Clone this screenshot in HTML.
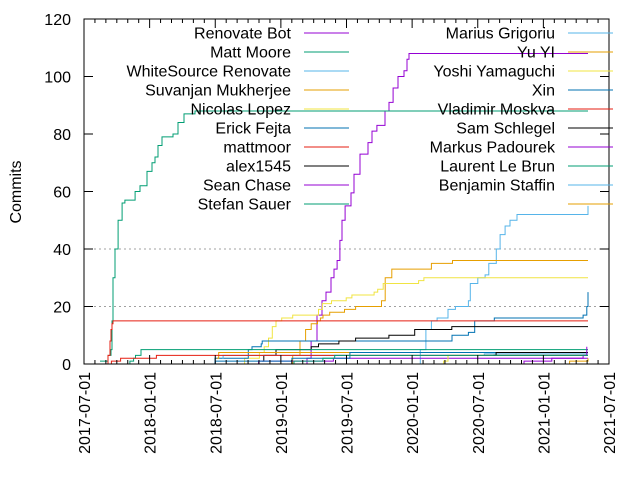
<!DOCTYPE html>
<html><head><meta charset="utf-8"><style>
html,body{margin:0;padding:0;background:#fff}
svg{display:block;font-family:"Liberation Sans",sans-serif}
</style></head><body>
<svg id="chart" width="640" height="480" viewBox="0 0 640 480" xmlns="http://www.w3.org/2000/svg">
<g id="grid"></g>
<g id="series"></g>
<g id="axes"></g>
<g id="legend"></g>
<text x="0" y="0" transform="translate(21,192) rotate(-90)" text-anchor="middle" font-size="16" fill="#000">Commits</text>
</svg>
<script>
const yTicks = [0, 20, 40, 60, 80, 100, 120];
const xTickLabels = ["2017-07-01","2018-01-01","2018-07-01","2019-01-01","2019-07-01","2020-01-01","2020-07-01","2021-01-01","2021-07-01"];
const xTickYears = [2017.5, 2018, 2018.5, 2019, 2019.5, 2020, 2020.5, 2021, 2021.5];
const seriesNames = ["Renovate Bot","Matt Moore","WhiteSource Renovate","Suvanjan Mukherjee","Nicolas Lopez","Erick Fejta","mattmoor","alex1545","Sean Chase","Stefan Sauer","Marius Grigoriu","Yu YI","Yoshi Yamaguchi","Xin","Vladimir Moskva","Sam Schlegel","Markus Padourek","Laurent Le Brun","Benjamin Staffin",""];
const seriesColors = ["#9400d3","#009e73","#56b4e9","#e69f00","#f0e442","#0072b2","#e51e10","#000000","#9400d3","#009e73","#56b4e9","#e69f00","#f0e442","#0072b2","#e51e10","#000000","#9400d3","#009e73","#56b4e9","#e69f00"];
// [decimal year, cumulative commits]
const renovateBot = [[2019.176,0],[2019.199,2],[2019.230,8],[2019.275,17],[2019.313,22],[2019.344,25],[2019.382,30],[2019.405,33],[2019.428,36],[2019.450,43],[2019.466,50],[2019.489,55],[2019.534,59.5],[2019.557,66],[2019.603,73],[2019.664,77],[2019.694,81],[2019.732,83],[2019.793,88],[2019.824,91],[2019.855,96],[2019.892,100],[2019.938,102],[2019.961,106],[2019.976,108],[2021.34,108]];
const mattMoore = [[2017.622,1],[2017.683,3],[2017.706,5],[2017.713,15],[2017.721,30],[2017.736,40],[2017.760,50],[2017.790,56],[2017.812,57],[2017.889,60],[2017.927,62],[2017.980,67],[2018.018,70],[2018.041,72],[2018.064,76],[2018.094,79],[2018.178,80],[2018.216,84],[2018.262,87],[2018.346,88],[2021.34,88]];
const whiteSource = [[2020.034,0],[2020.062,5],[2020.105,12],[2020.147,15],[2020.190,16],[2020.273,19],[2020.330,20],[2020.429,22],[2020.443,28],[2020.500,30],[2020.556,31],[2020.584,35],[2020.641,40],[2020.670,45],[2020.708,48],[2020.746,50],[2020.799,52],[2021.335,52],[2021.34,55]];
const suvanjan = [[2019.062,0],[2019.090,3],[2019.146,8],[2019.188,12],[2019.231,14],[2019.279,15],[2019.301,16],[2019.321,17],[2019.372,18],[2019.485,19],[2019.569,20],[2019.767,22],[2019.795,30],[2019.845,33],[2020.147,35],[2020.308,36],[2021.34,36]];
const nicolasLopez = [[2018.568,0],[2018.724,2],[2018.836,4],[2018.873,6],[2018.906,9],[2018.935,13],[2018.963,15],[2019.006,16],[2019.090,17],[2019.287,19],[2019.316,21],[2019.386,22],[2019.498,23],[2019.541,24],[2019.710,25],[2019.738,26],[2019.780,28],[2020.049,29],[2020.090,30],[2021.34,30]];
const erickFejta = [[2018.413,0],[2018.498,2],[2018.752,5],[2018.780,6],[2018.850,7],[2018.858,8],[2020.304,10],[2020.429,11],[2020.477,15],[2020.626,16],[2021.303,17],[2021.331,20],[2021.34,25]];
const mattmoor = [[2017.675,0],[2017.683,3],[2017.698,8],[2017.706,12],[2017.713,14],[2017.721,15],[2021.34,15]];
const alex1545 = [[2018.858,1],[2018.870,3],[2018.963,5],[2019.231,6],[2019.287,7],[2019.442,8],[2019.569,9],[2019.823,10],[2020.020,12],[2020.302,13],[2021.34,13]];
const seanChase = [[2018.81,0],[2018.83,1],[2019.40,2],[2021.34,2]];
const stefanSauer = [[2017.835,0],[2017.850,1],[2017.878,2],[2017.892,3],[2017.934,5],[2021.34,5]];
const mariusGrigoriu = [[2018.554,2],[2018.560,3],[2020.541,3],[2020.550,3.5],[2021.34,3.5]];
const yuYI = [[2018.512,2],[2018.526,4],[2021.34,4]];
const yoshi = [[2020.203,0],[2020.240,1],[2020.273,3],[2021.34,3]];
const xin = [[2018.41,0],[2018.50,1],[2019.084,2],[2019.526,4],[2021.34,4]];
const vladimir = [[2017.700,0],[2017.709,1],[2017.779,2],[2018.052,3],[2021.34,3]];
const samSchlegel = [[2020.62,3],[2020.640,4],[2021.34,4]];
const markusPadourek = [[2020.80,0],[2020.852,1],[2021.064,2],[2021.303,3],[2021.331,6]];
const laurentLeBrun = [[2019.06,0],[2019.10,1],[2019.32,2],[2019.41,3],[2021.34,3]];
const benjaminStaffin = [[2021.30,0],[2021.34,0]];
const unnamed = [[2021.06,0],[2021.20,1],[2021.34,2]];
const seriesData = [renovateBot, mattMoore, whiteSource, suvanjan, nicolasLopez, erickFejta, mattmoor, alex1545, seanChase, stefanSauer, mariusGrigoriu, yuYI, yoshi, xin, vladimir, samSchlegel, markusPadourek, laurentLeBrun, benjaminStaffin, unnamed];

const NS = "http://www.w3.org/2000/svg";
const L = 84, R = 609, T = 19, B = 364;
function X(yr){ return L + (yr - 2017.5) * (R - L) / 4; }
function Y(v){ return B - v * (B - T) / 120; }
function mk(tag, attrs, parent){ const e = document.createElementNS(NS, tag); for (const k in attrs) e.setAttribute(k, attrs[k]); parent.appendChild(e); return e; }

const grid = document.getElementById('grid');
[20, 40].forEach(v => {
  const g = mk('line', {x1:L, x2:R, y1:Y(v), y2:Y(v), stroke:'#a0a0a0', 'stroke-dasharray':'2,3', 'stroke-width':1}, grid);
  
  
});

const sg = document.getElementById('series');
seriesData.forEach((pts, i) => {
  let d = 'M' + X(pts[0][0]).toFixed(1) + ',' + Y(pts[0][1]).toFixed(1);
  for (let k = 1; k < pts.length; k++) {
    d += 'H' + X(pts[k][0]).toFixed(1) + 'V' + Y(pts[k][1]).toFixed(1);
  }
  const p = mk('path', {d: d, fill:'none', stroke: seriesColors[i], 'stroke-width':1}, sg);
  
  
});

const ax = document.getElementById('axes');
const frame = mk('rect', {x:L, y:T, width:R-L, height:B-T, fill:'none', stroke:'#000', 'stroke-width':1}, ax);


yTicks.forEach(v => {
  mk('line', {x1:L, x2:L+9, y1:Y(v), y2:Y(v), stroke:'#000'}, ax);
  mk('line', {x1:R-9, x2:R, y1:Y(v), y2:Y(v), stroke:'#000'}, ax);
  const t = mk('text', {x:71, y:Y(v)+6, 'text-anchor':'end', 'font-size':16, fill:'#000'}, ax);
  t.textContent = v;
  
  
});
for (let m = 0; m <= 48; m++) {
  const x = X(2017.5 + m / 12);
  const len = (m % 6 === 0) ? 9 : 4;
  mk('line', {x1:x, x2:x, y1:B, y2:B-len, stroke:'#000'}, ax);
  mk('line', {x1:x, x2:x, y1:T, y2:T+len, stroke:'#000'}, ax);
}
xTickYears.forEach((yr, i) => {
  const x = X(yr) + 6;
  const t = mk('text', {x:0, y:0, transform:'translate(' + x + ',372) rotate(-90)', 'text-anchor':'end', 'font-size':16, fill:'#000'}, ax);
  t.textContent = xTickLabels[i];
  
  
});

const lg = document.getElementById('legend');
seriesNames.forEach((n, i) => {
  const col = i < 10 ? 0 : 1;
  const row = i % 10;
  const y = 33 + row * 19;
  const tx = col === 0 ? 291 : 555;
  const sx = col === 0 ? 304 : 568;
  const g = mk('g', {}, lg);
  
  
  const t = mk('text', {x:tx, y:y+5.5, 'text-anchor':'end', 'font-size':16, fill:'#000'}, g);
  t.textContent = n;
  mk('line', {x1:sx, x2:sx+45, y1:y, y2:y, stroke:seriesColors[i], 'stroke-width':1}, g);
});
</script>
</body></html>
